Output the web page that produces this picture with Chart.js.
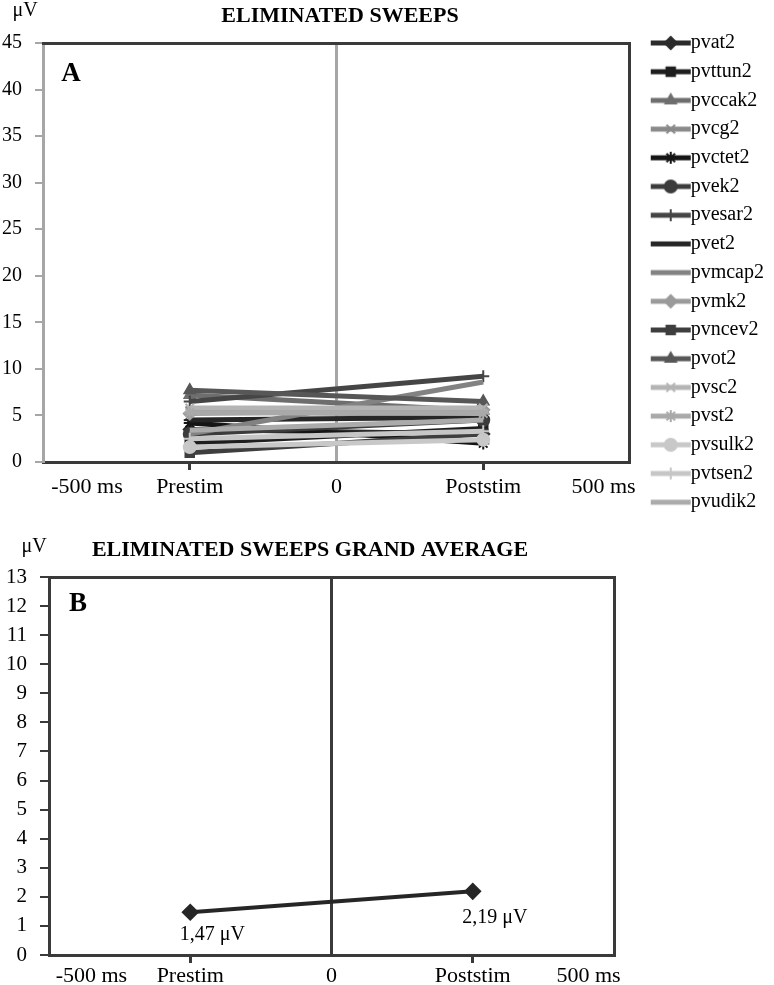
<!DOCTYPE html>
<html>
<head>
<meta charset="utf-8">
<script src="https://cdn.jsdelivr.net/npm/chart.js@4.4.0/dist/chart.umd.min.js"></script>
<style>
  html, body { margin: 0; padding: 0; background: #fff; }
  #wrap { position: relative; width: 774px; height: 985px; }
  #chartA { position: absolute; left: 0; top: 0; }
  #chartB { position: absolute; left: 0; top: 530px; }
</style>
</head>
<body>
<div id="wrap">
  <canvas id="chartA" width="774" height="530"></canvas>
  <canvas id="chartB" width="774" height="455"></canvas>
</div>
<script>
// phases on the time axis
const phaseX = [-1, 1];
const xTickValues = [-1.7, -1, 0, 1, 1.82];
const xTickLabels = ["-500 ms", "Prestim", "0", "Poststim", "500 ms"];

// panel A: eliminated sweeps per subject (uV)
const sweepNames = ["pvat2", "pvttun2", "pvccak2", "pvcg2", "pvctet2", "pvek2", "pvesar2", "pvet2",
  "pvmcap2", "pvmk2", "pvncev2", "pvot2", "pvsc2", "pvst2", "pvsulk2", "pvtsen2", "pvudik2"];
const prestimUV = [3.5, 2.0, 7.2, 5.5, 4.2, 3.0, 6.5, 4.5, 3.0, 5.2, 1.0, 7.7, 5.8, 5.3, 1.6, 2.5, 3.4];
const poststimUV = [3.0, 3.6, 5.5, 5.0, 2.0, 4.5, 9.2, 4.8, 8.6, 5.6, 3.0, 6.5, 5.8, 5.2, 2.4, 3.3, 4.5];

// panel B: grand average (uV)
const grandAverageUV = [1.47, 2.19];

const lineColors = ["#2b2b2b", "#1e1e1e", "#6e6e6e", "#8a8a8a", "#151515", "#3c3c3c", "#454545", "#262626",
  "#828282", "#9a9a9a", "#3e3e3e", "#575757", "#b4b4b4", "#a9a9a9", "#c8c8c8", "#c6c6c6", "#ababab"];
const markers = ["rectRot", "rect", "triangle", "crossRot", "star", "circle", "cross", "line",
  null, "rectRot", "rect", "triangle", "crossRot", "star", "circle", "cross", null];

const FONT = "'Liberation Serif', 'Times New Roman', serif";
Chart.defaults.font.family = FONT;
Chart.defaults.color = "#000";

const AXIS_DARK = "#3a3a3a";
const AXIS_GRAY = "#a6a6a6";

// small line + marker pictures for the legend
function legendIcon(color, style) {
  const c = document.createElement("canvas");
  c.width = 64; c.height = 20;
  const ctx = c.getContext("2d");
  ctx.strokeStyle = color;
  ctx.fillStyle = color;
  ctx.lineWidth = 5;
  ctx.beginPath();
  ctx.moveTo(23, 10);
  ctx.lineTo(63, 10);
  ctx.stroke();
  if (style && style !== "line") {
    ctx.lineWidth = 2;
    Chart.helpers.drawPoint(ctx, { pointStyle: style, radius: 6, rotation: 0, borderWidth: 2 }, 43, 10);
  }
  return c;
}
const legendIcons = sweepNames.map((n, i) => legendIcon(lineColors[i], markers[i]));

const textNotes = {
  id: "textNotes",
  afterDraw(chart, args, opts) {
    const ctx = chart.ctx;
    (opts.items || []).forEach(function (it) {
      ctx.save();
      ctx.font = it.font;
      ctx.fillStyle = "#000";
      ctx.textAlign = "center";
      ctx.textBaseline = "middle";
      ctx.fillText(it.text, it.x, it.y);
      ctx.restore();
    });
  }
};

const valueLabels = {
  id: "valueLabels",
  afterDatasetsDraw(chart, args, opts) {
    if (!opts.show) return;
    const ctx = chart.ctx;
    const meta = chart.getDatasetMeta(0);
    meta.data.forEach(function (pt, i) {
      const v = chart.data.datasets[0].data[i].y;
      ctx.save();
      ctx.font = opts.font;
      ctx.fillStyle = "#000";
      ctx.textAlign = "center";
      ctx.textBaseline = "middle";
      ctx.fillText(v.toFixed(2).replace(".", ",") + " \u03bcV", pt.x + opts.dx, pt.y + opts.dy[i]);
      ctx.restore();
    });
  }
};
Chart.register(textNotes, valueLabels);

function timeAxis(height, zeroColor, labelPad) {
  return {
    type: "linear",
    min: -2,
    max: 2,
    afterBuildTicks: function (s) { s.ticks = xTickValues.map(v => ({ value: v })); },
    afterFit: function (s) { s.height = height; },
    border: { color: AXIS_DARK, width: 3 },
    grid: {
      color: c => (c.tick && c.tick.value === 0 ? zeroColor : "transparent"),
      lineWidth: 3,
      tickColor: c => (c.tick && Math.abs(c.tick.value) === 1 ? AXIS_DARK : "transparent"),
      tickWidth: 3,
      tickLength: 8
    },
    ticks: {
      autoSkip: false,
      maxRotation: 0,
      padding: labelPad,
      font: { size: 22 },
      callback: (v, i) => xTickLabels[i]
    }
  };
}

function frameAxis(pos, size) {
  const ax = {
    type: "linear",
    position: pos,
    min: 0,
    max: 1,
    border: { color: AXIS_DARK, width: 3 },
    grid: { display: false },
    ticks: { display: false }
  };
  if (pos === "top") ax.afterFit = s => { s.height = size; };
  else ax.afterFit = s => { s.width = size; };
  return ax;
}

// ---------- panel A ----------
new Chart(document.getElementById("chartA"), {
  type: "line",
  data: {
    datasets: sweepNames.map((name, i) => ({
      label: name,
      data: phaseX.map((x, j) => ({ x: x, y: j === 0 ? prestimUV[i] : poststimUV[i] })),
      borderColor: lineColors[i],
      backgroundColor: lineColors[i],
      borderWidth: 5,
      pointStyle: markers[i] || "circle",
      pointRadius: markers[i] ? 6 : 0,
      pointBorderWidth: 2,
      order: -i
    }))
  },
  options: {
    responsive: false,
    animation: false,
    events: [],
    layout: { padding: { top: 24.3, right: 0, bottom: 0, left: 0 } },
    scales: {
      x: timeAxis(68, AXIS_GRAY, 4),
      y: {
        min: 0,
        max: 45,
        afterFit: s => { s.width = 43; },
        border: { color: AXIS_GRAY, width: 3 },
        grid: { drawOnChartArea: false, color: AXIS_GRAY, lineWidth: 2, tickLength: 8 },
        ticks: { stepSize: 5, padding: 13, font: { size: 20 } }
      },
      x2: frameAxis("top", 18.7),
      y2: frameAxis("right", 0)
    },
    plugins: {
      tooltip: { enabled: false },
      legend: {
        position: "right",
        align: "start",
        maxWidth: 220,
        labels: {
          usePointStyle: true,
          pointStyleWidth: 42,
          padding: 8.7,
          font: { size: 20 },
          color: "#000",
          generateLabels: chart => chart.data.datasets.map((ds, i) => ({
            text: ds.label,
            pointStyle: legendIcons[i],
            fillStyle: "transparent",
            strokeStyle: "transparent",
            lineWidth: 0,
            hidden: false,
            datasetIndex: i
          }))
        }
      },
      textNotes: {
        items: [
          { text: "ELIMINATED SWEEPS", x: 340, y: 16, font: "bold 22px " + FONT },
          { text: "\u03bcV", x: 25, y: 11, font: "20px " + FONT },
          { text: "A", x: 71, y: 74, font: "bold 27px " + FONT }
        ]
      }
    }
  }
});

// ---------- panel B ----------
new Chart(document.getElementById("chartB"), {
  type: "line",
  data: {
    datasets: [{
      label: "Grand average",
      data: phaseX.map((x, j) => ({ x: x, y: grandAverageUV[j] })),
      borderColor: "#262626",
      backgroundColor: "#262626",
      borderWidth: 4,
      pointStyle: "rectRot",
      pointRadius: 6
    }]
  },
  options: {
    responsive: false,
    animation: false,
    events: [],
    layout: { padding: { top: 47, right: 160, bottom: 0, left: 0 } },
    scales: {
      x: timeAxis(30, AXIS_DARK, 0),
      y: {
        min: 0,
        max: 13,
        afterFit: s => { s.width = 49; },
        border: { color: AXIS_DARK, width: 3 },
        grid: { drawOnChartArea: false, color: AXIS_DARK, lineWidth: 2, tickLength: 9 },
        ticks: { stepSize: 1, padding: 13, font: { size: 21 } }
      },
      x2: frameAxis("top", 0),
      y2: frameAxis("right", 0)
    },
    plugins: {
      tooltip: { enabled: false },
      legend: { display: false },
      valueLabels: { show: true, font: "20px " + FONT, dx: 22, dy: [22, 26] },
      textNotes: {
        items: [
          { text: "ELIMINATED SWEEPS GRAND AVERAGE", x: 310, y: 20, font: "bold 22px " + FONT },
          { text: "\u03bcV", x: 34, y: 17, font: "20px " + FONT },
          { text: "B", x: 78, y: 74, font: "bold 27px " + FONT }
        ]
      }
    }
  }
});
</script>
</body>
</html>
